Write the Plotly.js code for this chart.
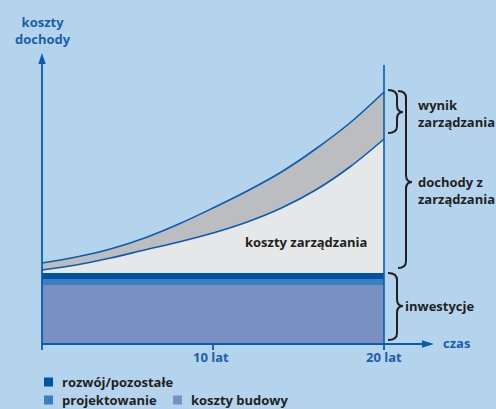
<!DOCTYPE html>
<html><head><meta charset="utf-8">
<script src="https://cdn.plot.ly/plotly-3.0.1.min.js"></script>
<style>html,body{margin:0;padding:0;background:#b4d4ee}</style>
</head><body><div id="chart" style="width:496px;height:409px"></div>
<script>
// ---- data ----
const years = [0, 2, 4, 6, 8, 10, 12, 14, 16, 18, 20];
const dochodyZZarzadzania = [81, 87, 95, 106, 120, 136, 153, 172, 195, 221, 252];
const kosztyZarzadzania = [74, 79, 86, 94, 102, 111, 122, 136, 154, 177, 205];
const invYears = [0, 20];
const kosztyBudowy = [59, 59];
const projektowanie = [6, 6];
const rozwojPozostale = [6, 6];
const tickYears = [10, 20];
const tickLabels = ['10 lat', '20 lat'];
const legendNames = ['rozwój/pozostałe', 'projektowanie', 'koszty budowy'];

// ---- styles ----
const BG = '#b4d4ee', PURPLE = '#7a8fc2', MID = '#3b7cc2', DARK = '#0052a3';
const LGRAY = '#e6e7e8', DGRAY = '#bcbdc0', LINE = '#0a5cad', BTEXT = '#1b5fab', KTEXT = '#231f20';
const FONT = 'Open Sans';
const FS = 13;

// pixel -> axis helpers for decorations
const X = px => (px - 42) / 17.1;
const Y = py => 344 - py;

const invTop = invYears.map((_, i) => kosztyBudowy[i] + projektowanie[i] + rozwojPozostale[i]);

const traces = [
  {x: invYears, y: kosztyBudowy, stackgroup: 'inv', mode: 'lines', line: {width: 0}, fillcolor: PURPLE, name: 'koszty budowy'},
  {x: invYears, y: projektowanie, stackgroup: 'inv', mode: 'lines', line: {width: 0}, fillcolor: MID, name: 'projektowanie'},
  {x: invYears, y: rozwojPozostale, stackgroup: 'inv', mode: 'lines', line: {width: 0}, fillcolor: DARK, name: 'rozwój/pozostałe'},
  {x: invYears, y: invTop, mode: 'lines', line: {width: 0}, showlegend: false},
  {x: years, y: kosztyZarzadzania, mode: 'lines', fill: 'tonexty', fillcolor: LGRAY, line: {color: LINE, width: 1.6, shape: 'spline'}, name: 'koszty zarządzania'},
  {x: years, y: dochodyZZarzadzania, mode: 'lines', fill: 'tonexty', fillcolor: DGRAY, line: {color: LINE, width: 1.6, shape: 'spline'}, name: 'dochody z zarządzania'}
];

function P(pts) { return pts.map(p => X(p[0]) + ',' + Y(p[1])); }
function brace(x0, xs, xt, yt, ym, yb, r) {
  const a = P([[x0, yt], [xs, yt], [xs, yt + r], [xs, ym - r], [xs, ym], [xt, ym], [xs, ym], [xs, ym + r], [xs, yb - r], [xs, yb], [x0, yb]]);
  return 'M' + a[0] + ' Q' + a[1] + ' ' + a[2] + ' L' + a[3] + ' Q' + a[4] + ' ' + a[5] +
         ' Q' + a[6] + ' ' + a[7] + ' L' + a[8] + ' Q' + a[9] + ' ' + a[10];
}

const shapes = [];
const axisLine = {color: LINE, width: 1.8};
// y axis + arrow
shapes.push({type: 'line', xref: 'x', yref: 'y', x0: 0, x1: 0, y0: Y(350), y1: Y(60), line: axisLine});
shapes.push({type: 'path', xref: 'x', yref: 'y', path: 'M' + P([[42, 53]])[0] + ' L' + P([[38.3, 64]])[0] + ' L' + P([[45.7, 64]])[0] + ' Z', fillcolor: LINE, line: {width: 0}});
// x axis + arrow
shapes.push({type: 'line', xref: 'x', yref: 'y', x0: 0, x1: X(426), y0: 0, y1: 0, line: axisLine});
shapes.push({type: 'path', xref: 'x', yref: 'y', path: 'M' + P([[434, 344]])[0] + ' L' + P([[422, 340.3]])[0] + ' L' + P([[422, 347.7]])[0] + ' Z', fillcolor: LINE, line: {width: 0}});
// ticks
tickYears.forEach(t => shapes.push({type: 'line', xref: 'x', yref: 'y', x0: t, x1: t, y0: 0, y1: Y(350), line: axisLine}));
// vertical line at end
shapes.push({type: 'line', xref: 'x', yref: 'y', x0: 20, x1: 20, y0: 0, y1: Y(65), line: {color: LINE, width: 1.6}});
// braces
const bl = {color: KTEXT, width: 2};
shapes.push({type: 'path', xref: 'x', yref: 'y', path: brace(388, 397, 403, 90, 112, 133, 7), line: bl});
shapes.push({type: 'path', xref: 'x', yref: 'y', path: brace(398, 406, 412, 91, 182, 268, 7), line: bl});
shapes.push({type: 'path', xref: 'x', yref: 'y', path: brace(388, 397, 403, 273, 306, 340, 7), line: bl});

const annotations = [];
const A = (px, py, text, color, xanchor, align) => annotations.push({
  xref: 'x', yref: 'y', x: X(px), y: Y(py), text: text, showarrow: false,
  xanchor: xanchor || 'center', yanchor: 'middle', align: align || 'center',
  font: {family: FONT, size: FS, color: color, weight: 'bold'}
});
A(43, 30, 'koszty<br>dochody', BTEXT);
tickYears.forEach((t, i) => A(42 + t * 17.1 - (t === 10 ? 2 : 0), 357, tickLabels[i], BTEXT));
A(441, 343, 'czas', BTEXT, 'left');
A(416, 113, 'wynik<br>zarządzania', KTEXT, 'left', 'left');
A(416, 190, 'dochody z<br>zarządzania', KTEXT, 'left', 'left');
A(403, 306, 'inwestycje', KTEXT, 'left');
A(306, 242, 'koszty zarządzania', KTEXT);

// manual legend
const legColors = [DARK, MID, PURPLE];
const legPos = [[44, 382], [44, 400], [173, 400]];
legendNames.forEach((n, i) => {
  const [lx, ly] = legPos[i];
  shapes.push({type: 'rect', xref: 'x', yref: 'y', x0: X(lx), x1: X(lx + 9), y0: Y(ly - 4.5), y1: Y(ly + 4.5), fillcolor: legColors[i], line: {width: 0}});
  A(lx + 16, ly, n, KTEXT, 'left');
});

const layout = {
  width: 496, height: 409,
  margin: {l: 0, r: 0, t: 0, b: 0, pad: 0},
  paper_bgcolor: BG, plot_bgcolor: BG,
  showlegend: false,
  xaxis: {range: [X(0), X(496)], visible: false, fixedrange: true},
  yaxis: {range: [Y(409), Y(0)], visible: false, fixedrange: true},
  shapes: shapes, annotations: annotations
};
Plotly.newPlot('chart', traces, layout, {staticPlot: true, displayModeBar: false});
</script></body></html>
